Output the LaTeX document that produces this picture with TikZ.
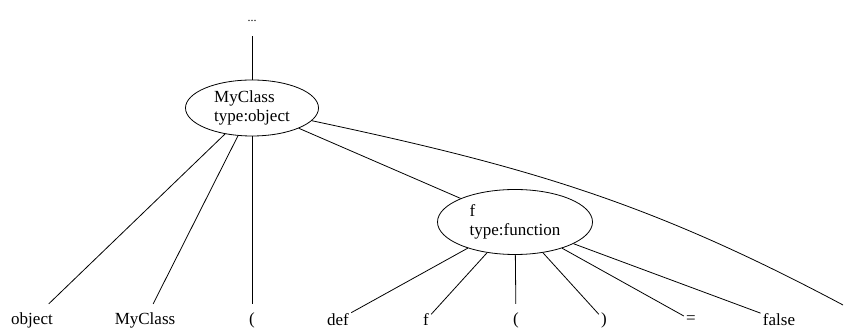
\documentclass[tikz,border=0pt]{standalone}
\usepackage{fontspec}
\setmainfont{Liberation Serif}
\usetikzlibrary{shapes.geometric}

\begin{document}
\begin{tikzpicture}[x=1pt, y=1pt, line width=0.8pt,
		every node/.style={font=\fontsize{17}{19}\selectfont},
		scopenode/.style={draw, ellipse, inner sep=0pt, align=left},
		leaf/.style={inner xsep=2pt, inner ysep=8pt}]
		\useasboundingbox (0, 0) rectangle (861, 331);
		% upper part of the tree
		\node[font=\fontsize{12}{14}\selectfont, inner xsep=3pt, inner ysep=14pt] (dots) at (252, 310) {...};
		\node[scopenode, minimum width=133, minimum height=56] (myclass) at (252, 223) {MyClass\\type:object};
		\node[scopenode, minimum width=155, minimum height=65] (func) at (515, 109) {f\\type:function};
		\draw (dots) -- (myclass);
		% children of MyClass
		\node[leaf] (object) at (32, 11) {object};
		\node[leaf] (clsname) at (145, 11) {MyClass};
		\node[leaf] (lparen) at (252, 11) {(};
		\coordinate (rest) at (843, 26);
		\foreach \c in {object, clsname, lparen, func} \draw (myclass) -- (\c);
		\draw (myclass) to[out=-12, in=152] (rest);
		% children of f
		\node[leaf] (kwdef) at (338, 11) {def};
		\node[leaf] (fname) at (426, 11) {f};
		\node[leaf] (fopen) at (516, 11) {(};
		\node[leaf] (fclose) at (604, 11) {)};
		\node[leaf] (equals) at (691, 11) {=};
		\node[leaf] (false) at (779, 11) {false};
		\foreach \c in {kwdef, fname, fopen, fclose, equals, false} \draw (func) -- (\c);
	\end{tikzpicture}
\end{document}
